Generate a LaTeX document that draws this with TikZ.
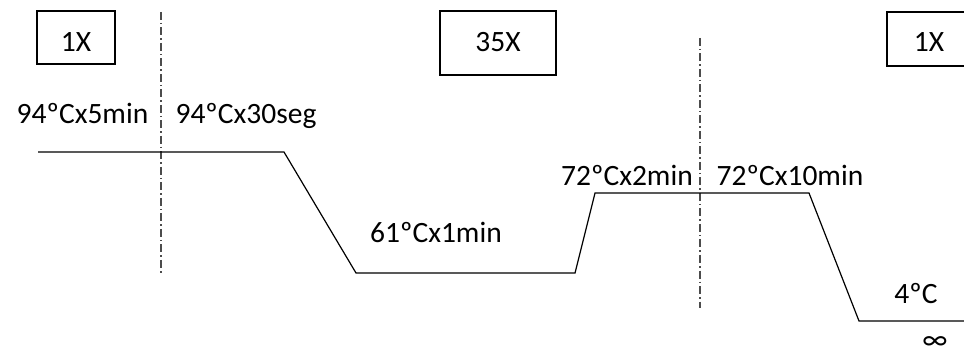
\documentclass[tikz,border=0pt]{standalone}
\usepackage{fontspec}
\setmainfont{Carlito}
\begin{document}
\begin{tikzpicture}[x=1pt,y=-1pt,
  cyclebox/.style={draw=black,line width=2pt},
  lbl/.style={font=\fontsize{29.5}{31}\selectfont,inner sep=0pt,anchor=base},
  profile/.style={draw=black,line width=1.2pt},
  divider/.style={draw=black!70,line width=1.4pt,dash pattern=on 8pt off 3pt on 1.5pt off 3pt}]
\useasboundingbox[fill=white] (0,0) rectangle (964,358);
% cycle boxes
\draw[cyclebox] (37,11) rectangle (115,64);
\draw[cyclebox] (440,11) rectangle (556,75);
\draw[cyclebox] (887,12) rectangle (966,66);
\node[lbl] (c1) at (76,52) {1X};
\node[lbl] (c35) at (498,52) {35X};
\node[lbl] (c1b) at (929,52) {1X};
% dividers
\coordinate (d1a) at (161,12);
\coordinate (d1b) at (161,273);
\coordinate (d2a) at (700,38);
\coordinate (d2b) at (700,308);
\draw[divider] (d1a) -- (d1b);
\draw[divider] (d2a) -- (d2b);
% profile
\coordinate (p0) at (38,152);
\coordinate (p1) at (284,152);
\coordinate (p2) at (356,273);
\coordinate (p3) at (575,273);
\coordinate (p4) at (595,193);
\coordinate (p5) at (809,193);
\coordinate (p6) at (859,321);
\coordinate (p7) at (966,321);
\draw[profile] (p0) -- (p1) -- (p2) -- (p3) -- (p4) -- (p5) -- (p6) -- (p7);
% labels
\node[lbl] (t1) at (82.5,124) {94ºCx5min};
\node[lbl] (t2) at (246,124) {94ºCx30seg};
\node[lbl] (t3) at (436,243) {61ºCx1min};
\node[lbl] (t4) at (627,186) {72ºCx2min};
\node[lbl] (t5) at (790,186) {72ºCx10min};
\node[lbl] (t6) at (916,303) {4ºC};
\node[font=\fontsize{29.5}{31}\selectfont,inner sep=0pt,anchor=center] (t7) at (935,343) {∞};
\end{tikzpicture}
\end{document}
